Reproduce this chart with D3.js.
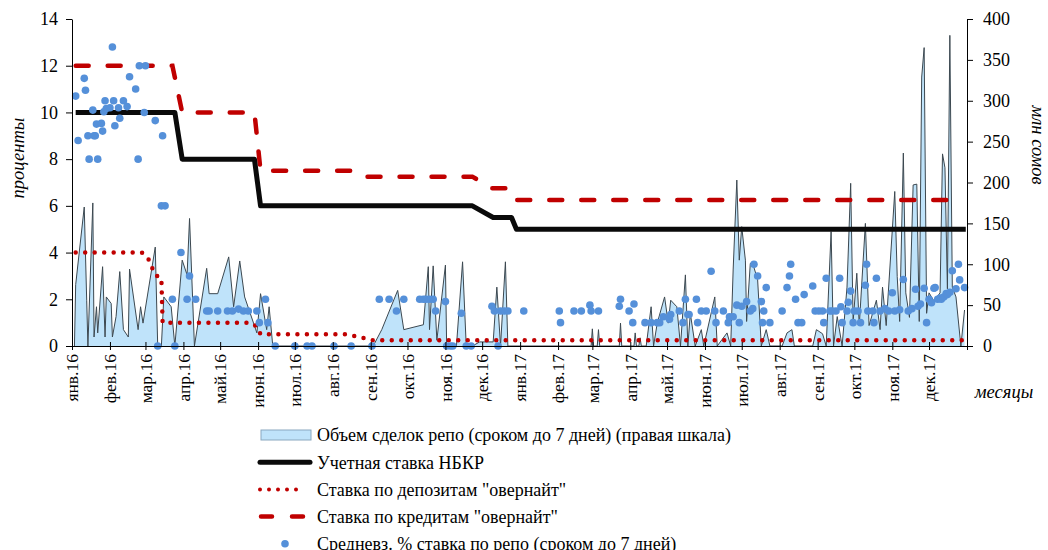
<!DOCTYPE html>
<html>
<head>
<meta charset="utf-8">
<script src="https://cdn.jsdelivr.net/npm/d3@7"></script>
<style>
  body { margin: 0; background: #fff; }
  text { font-family: "Liberation Serif", "Times New Roman", serif; }
</style>
</head>
<body>
<script>
// all x values are days since 1 Jan 2016
var monthNames = ['янв', 'фев', 'мар', 'апр', 'май', 'июн', 'июл', 'авг', 'сен', 'окт', 'ноя', 'дек'];
var leftTicks = [0, 2, 4, 6, 8, 10, 12, 14];
var rightTicks = [0, 50, 100, 150, 200, 250, 300, 350, 400];

var legendLabels = [
    'Объем сделок репо (сроком до 7 дней) (правая шкала)',
    'Учетная ставка НБКР',
    'Ставка по депозитам "овернайт"',
    'Ставка по кредитам "овернайт"',
    'Средневз. % ставка по репо (сроком до 7 дней)'
];

// volume of repo deals, mln som (right axis)
var volume = [
    [2, 0], [3, 75], [10, 170], [12, 56], [13, 0], [17, 175], [18, 11], [20, 48], [21, 16], [25, 97],
    [27, 11], [28, 60], [32, 52], [33, 11], [36, 36], [39, 91], [42, 20], [46, 11], [47, 94], [54, 20],
    [56, 48], [58, 28], [68, 121], [70, 0], [73, 0], [75, 60], [81, 48], [84, 0], [90, 105], [94, 87],
    [96, 156], [100, 0], [110, 95], [112, 64], [119, 64], [128, 109], [132, 48], [137, 104], [141, 60],
    [151, 16], [154, 64], [159, 20], [161, 48], [164, 0],
    [246, 0], [253, 20], [266, 68], [271, 20], [287, 26], [291, 97], [292, 20], [295, 98], [298, 7],
    [305, 99], [306, 0], [314, 0], [319, 103], [322, 0], [327, 0], [333, 5], [344, 5], [347, 72],
    [350, 0], [354, 103], [356, 0],
    [424, 0], [425, 21], [426, 0], [429, 0], [430, 20], [431, 0], [447, 0], [448, 28], [449, 0],
    [459, 0], [460, 16], [461, 0], [463, 0], [464, 10], [465, 0],
    [469, 0], [473, 48], [475, 0], [478, 28], [484, 60], [487, 28], [489, 56], [494, 48], [497, 0],
    [501, 87], [503, 0], [505, 40], [509, 0], [514, 20], [516, 0], [525, 60], [527, 0], [535, 16],
    [538, 0], [540, 93], [543, 203], [545, 105], [547, 146], [550, 105], [551, 30], [554, 101],
    [556, 101], [560, 81], [563, 0], [567, 20], [570, 0], [580, 0], [584, 16], [588, 20], [590, 0],
    [605, 0], [608, 20], [613, 15], [616, 0], [620, 140], [622, 0], [625, 36], [629, 0], [633, 72],
    [636, 199], [638, 30], [641, 89], [643, 25], [648, 150], [651, 25], [657, 56], [660, 20],
    [662, 72], [665, 25], [672, 189], [674, 85], [676, 30], [679, 236], [681, 65], [684, 35],
    [687, 197], [690, 198], [692, 30], [694, 329], [696, 365], [698, 40], [700, 65], [704, 55],
    [709, 65], [711, 235], [713, 218], [715, 70], [717, 380], [719, 72], [722, 60], [726, 0], [729, 44]
];

// policy rate
var policyRate = [[3, 10], [84, 10], [90, 8], [149, 8], [154, 6], [327, 6], [344, 5.5], [359, 5.5], [363, 5], [730, 5]];

// overnight deposit rate
var depositRate = [[3, 4], [57, 4], [62, 3.77], [65, 3.4], [68, 3.04], [73, 2.9], [74, 1], [146, 1],
    [151, 0.83], [154, 0.5], [224, 0.5], [237, 0.36], [245, 0.25], [730, 0.25]];

// overnight credit rate
var creditRate = [[3, 12], [82, 12], [90, 10], [149, 10], [154, 7.5], [232, 7.5], [240, 7.25],
    [327, 7.25], [343, 6.75], [357, 6.75], [362, 6.25], [725, 6.25]];

// weighted average repo rate
var repoRate = [
    [3, 10.7], [5, 8.8], [10, 11.46], [11, 10.95], [13, 9.0], [14, 8.0], [17, 10.1], [18, 9.0],
    [19, 9.0], [20, 9.5], [21, 8.0], [24, 9.53], [25, 9.2], [26, 10.03], [27, 10.5], [28, 10.17],
    [31, 10.2], [33, 12.8], [34, 10.5], [35, 9.43], [38, 10.2], [39, 9.75], [42, 10.5], [45, 10.25],
    [47, 11.53], [52, 11.0], [54, 8.0], [55, 12.0], [59, 10.0], [60, 12.0], [68, 9.65], [70, 0],
    [73, 6.0], [74, 9.0], [76, 6.0], [82, 2.0], [84, 0], [89, 4.0], [94, 2.0], [96, 3.0], [101, 2.0],
    [110, 1.5], [112, 1.5], [119, 1.5], [127, 1.5], [131, 1.5], [136, 1.58], [140, 1.5], [144, 1.5],
    [151, 1.5], [153, 1.0], [158, 2.0], [160, 1.0], [166, 0], [182, 0], [192, 0], [196, 0],
    [214, 0], [228, 0], [245, 0], [251, 2.0], [259, 2.0], [265, 1.5], [271, 2.0], [284, 2.0],
    [287, 2.0], [289, 2.0], [292, 2.0], [295, 2.0], [297, 1.5], [305, 1.9], [306, 0], [309, 0],
    [311, 0], [318, 1.4], [322, 0], [326, 0], [343, 1.7], [345, 1.5], [348, 0], [350, 1.5],
    [353, 1.5], [356, 1.5], [369, 1.5], [398, 1.5], [399, 1.0], [410, 1.5], [416, 1.5], [423, 1.75],
    [424, 1.5], [430, 1.5], [447, 1.7], [448, 2.0], [455, 1.5], [458, 1.0], [459, 1.8],
    [468, 1.0], [473, 1.0], [478, 1.0], [480, 1.0], [483, 1.25], [488, 1.15], [489, 1.35],
    [496, 1.5], [499, 1.0], [501, 2.0], [503, 1.35], [504, 1.35], [510, 2.0], [511, 1.0],
    [514, 1.5], [518, 1.5], [522, 3.2], [525, 1.5], [526, 1.0], [532, 1.5], [536, 1.0], [537, 1.25],
    [540, 1.25], [543, 1.75], [545, 1.0], [547, 1.7], [551, 1.9], [554, 1.5], [556, 1.6],
    [557, 3.5], [560, 3.0], [563, 1.9], [564, 1.0], [565, 1.5], [567, 2.5], [570, 1.0],
    [580, 1.5], [584, 2.5], [586, 3.0], [587, 3.5], [591, 2.0], [593, 1.0], [596, 1.0], [598, 2.2],
    [605, 2.57], [607, 1.5], [610, 1.5], [613, 1.5], [614, 1.0], [616, 2.9], [619, 1.5], [621, 1.5],
    [624, 1.5], [627, 2.9], [628, 1.68], [629, 1.0], [633, 1.5], [634, 1.87], [636, 2.35],
    [638, 1.0], [639, 1.5], [642, 1.5], [644, 1.0], [648, 2.6], [649, 3.5], [650, 1.5], [654, 1.5],
    [655, 1.0], [657, 2.9], [660, 1.5], [664, 1.6], [667, 1.5], [670, 2.28], [672, 1.5], [676, 1.55],
    [679, 2.85], [683, 1.5], [686, 1.6], [689, 2.43], [691, 1.7], [693, 1.8], [696, 2.47],
    [698, 1.0], [700, 2.0], [702, 1.85], [704, 2.47], [705, 2.5], [707, 2.0], [709, 2.05],
    [710, 2.0], [712, 2.1], [714, 2.25], [715, 2.2], [717, 2.3], [719, 3.22], [722, 2.45],
    [724, 3.5], [725, 2.83], [729, 2.5]
];

var colorRed = '#c00000',
    colorDot = '#5590d9',
    colorFill = '#bfe3fa',
    serif = '"Liberation Serif", "Times New Roman", serif';

var startDate = new Date(2016, 0, 1);
function day(n) { return d3.timeDay.offset(startDate, n); }

var svg = d3.select('body').append('svg')
    .attr('width', 1048)
    .attr('height', 550);

var x = d3.scaleTime()
    .domain([startDate, new Date(2018, 0, 1)])
    .range([72, 967]);
var yL = d3.scaleLinear().domain([0, 14]).range([346, 19]);
var yR = d3.scaleLinear().domain([0, 400]).range([346, 19]);

// volume area
svg.append('path')
    .datum(volume)
    .attr('d', d3.area()
        .x(function (d) { return x(day(d[0])); })
        .y0(yR(0))
        .y1(function (d) { return yR(d[1]); }))
    .attr('fill', colorFill);

svg.append('path')
    .datum(volume)
    .attr('d', d3.line()
        .x(function (d) { return x(day(d[0])); })
        .y(function (d) { return yR(d[1]); }))
    .attr('fill', 'none')
    .attr('stroke', '#3c4850')
    .attr('stroke-width', 1);

var rateLine = d3.line()
    .x(function (d) { return x(day(d[0])); })
    .y(function (d) { return yL(d[1]); });

// overnight deposit rate
svg.append('path')
    .datum(depositRate)
    .attr('d', rateLine)
    .attr('fill', 'none')
    .attr('stroke', colorRed)
    .attr('stroke-width', 4.5)
    .attr('stroke-linecap', 'round')
    .attr('stroke-dasharray', '0 9.5');

// overnight credit rate
svg.append('path')
    .datum(creditRate)
    .attr('d', rateLine)
    .attr('fill', 'none')
    .attr('stroke', colorRed)
    .attr('stroke-width', 4.5)
    .attr('stroke-linecap', 'round')
    .attr('stroke-dasharray', '13 19');

// policy rate
svg.append('path')
    .datum(policyRate)
    .attr('d', rateLine)
    .attr('fill', 'none')
    .attr('stroke', '#0a0a0a')
    .attr('stroke-width', 5)
    .attr('stroke-linejoin', 'round');

// repo rate dots
svg.append('g').selectAll('circle').data(repoRate).enter()
    .append('circle')
    .attr('cx', function (d) { return x(day(d[0])); })
    .attr('cy', function (d) { return yL(d[1]); })
    .attr('r', 3.8)
    .attr('fill', colorDot);

// axes
var xAxis = svg.append('g')
    .attr('transform', 'translate(0,' + yL(0) + ')')
    .call(d3.axisBottom(x)
        .ticks(d3.timeMonth.every(1))
        .tickSizeOuter(0)
        .tickFormat(function (d) {
            if (d.getFullYear() > 2017) return '';
            return monthNames[d.getMonth()] + '.' + String(d.getFullYear()).slice(2);
        }));
xAxis.selectAll('.tick line').attr('y1', -4).attr('y2', 4);

var leftAxis = svg.append('g')
    .attr('transform', 'translate(72,0)')
    .call(d3.axisLeft(yL).tickValues(leftTicks).tickSize(6).tickSizeOuter(0).tickPadding(8));

var rightAxis = svg.append('g')
    .attr('transform', 'translate(967,0)')
    .call(d3.axisRight(yR).tickValues(rightTicks).tickSize(6).tickSizeOuter(0).tickPadding(10));

svg.selectAll('.domain').attr('stroke', '#000');
svg.selectAll('.tick line').attr('stroke', '#000');
svg.selectAll('.tick text')
    .attr('fill', '#000')
    .style('font-size', '18px')
    .style('font-family', serif);

xAxis.selectAll('.tick text')
    .attr('transform', 'rotate(-90)')
    .attr('x', -8)
    .attr('y', 0)
    .attr('dy', '0.33em')
    .style('text-anchor', 'end')
    .style('font-size', '17.5px');

// axis titles
svg.append('text')
    .attr('transform', 'translate(24,158) rotate(-90)')
    .attr('text-anchor', 'middle')
    .style('font-style', 'italic')
    .style('font-size', '18.5px')
    .text('проценты');

svg.append('text')
    .attr('transform', 'translate(1032,145) rotate(90)')
    .attr('text-anchor', 'middle')
    .style('font-style', 'italic')
    .style('font-size', '18.5px')
    .text('млн сомов');

svg.append('text')
    .attr('x', 1004)
    .attr('y', 398)
    .attr('text-anchor', 'middle')
    .style('font-style', 'italic')
    .style('font-size', '18.5px')
    .text('месяцы');

// legend
var legendTop = 435, legendStep = 27.2;
var legend = svg.append('g');

legend.append('rect')
    .attr('x', 261).attr('y', legendTop - 5)
    .attr('width', 50).attr('height', 10)
    .attr('fill', colorFill)
    .attr('stroke', '#8aa8bf');

legend.append('line')
    .attr('x1', 260).attr('x2', 310)
    .attr('y1', legendTop + legendStep).attr('y2', legendTop + legendStep)
    .attr('stroke', '#0a0a0a').attr('stroke-width', 5).attr('stroke-linecap', 'round');

legend.append('line')
    .attr('x1', 260).attr('x2', 305)
    .attr('y1', legendTop + legendStep * 2).attr('y2', legendTop + legendStep * 2)
    .attr('stroke', colorRed).attr('stroke-width', 4).attr('stroke-linecap', 'round')
    .attr('stroke-dasharray', '0 9');

legend.append('line')
    .attr('x1', 261).attr('x2', 305)
    .attr('y1', legendTop + legendStep * 3).attr('y2', legendTop + legendStep * 3)
    .attr('stroke', colorRed).attr('stroke-width', 4.5).attr('stroke-linecap', 'round')
    .attr('stroke-dasharray', '11 20');

legend.append('circle')
    .attr('cx', 285).attr('cy', legendTop + legendStep * 4)
    .attr('r', 3.8)
    .attr('fill', colorDot);

legend.selectAll('text').data(legendLabels).enter()
    .append('text')
    .attr('x', 317)
    .attr('y', function (d, i) { return legendTop + legendStep * i; })
    .attr('dy', '0.35em')
    .style('font-size', '18px')
    .text(function (d) { return d; });
</script>
</body>
</html>
